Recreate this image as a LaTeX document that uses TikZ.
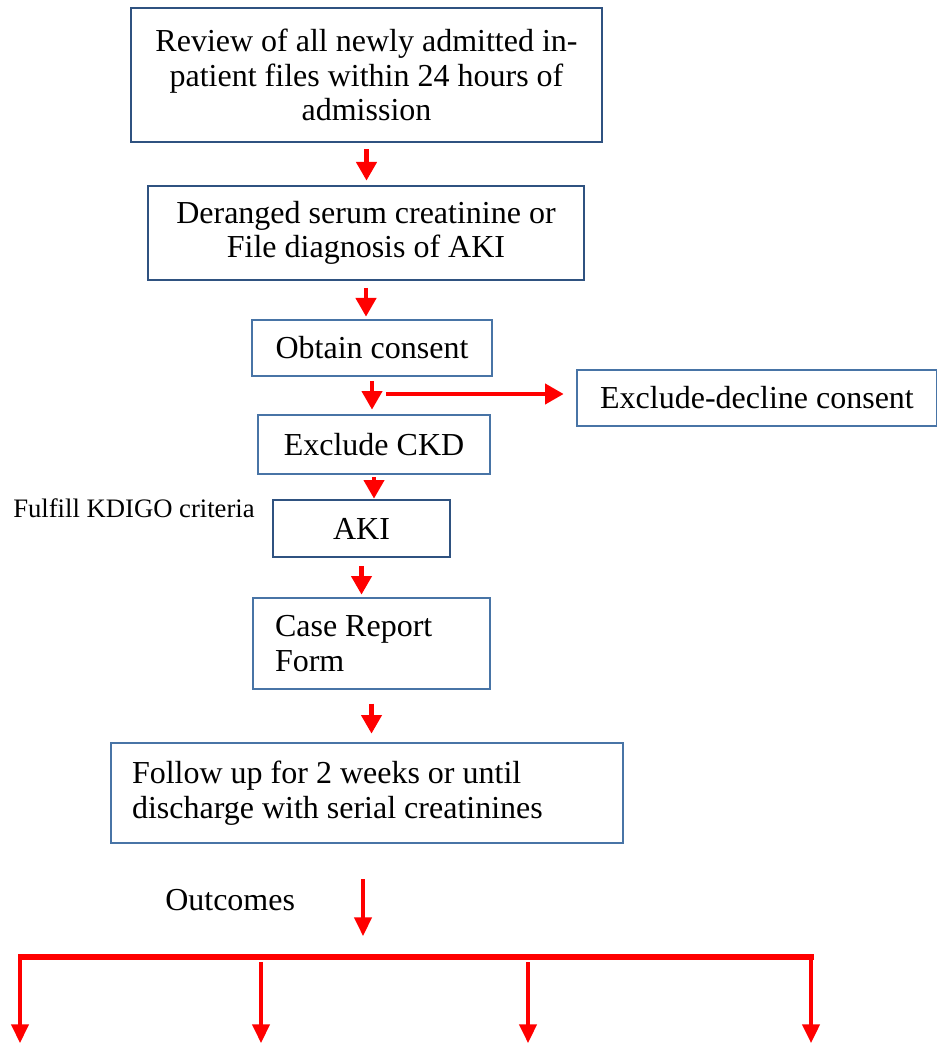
\documentclass[tikz,border=0pt]{standalone}
\usepackage{fontspec}
\setmainfont{Liberation Serif}
\usetikzlibrary{arrows.meta}

\definecolor{darkframe}{RGB}{47,82,128}
\definecolor{lightframe}{RGB}{72,116,166}
\def\boxfont{\fontsize{24}{26}\selectfont}
\def\notefont{\fontsize{20}{22}\selectfont}

\tikzset{
  flowbox/.style={draw=#1, line width=2pt, inner sep=0pt, font=\boxfont, align=center},
  flowbox/.default=lightframe,
  flow/.style={draw=red, line width=3.2pt, -{Triangle[width=15pt,length=14pt]}},
  outflow/.style={draw=red, line width=2.6pt, -{Triangle[width=13pt,length=14pt]}},
  bar/.style={draw=red, line width=4.5pt}
}

\begin{document}
\begin{tikzpicture}[x=0.75pt, y=-0.75pt]
  \useasboundingbox (0,0) rectangle (937,1044);

  % Main column of boxes
  \node[flowbox=darkframe, minimum width=353.25pt, minimum height=100.5pt] (review) at (366.5,75)
    {Review of all newly admitted in-\\patient files within 24 hours of\\admission};
  \node[flowbox=darkframe, minimum width=327pt, minimum height=70.5pt] (deranged) at (366,233)
    {Deranged serum creatinine or\\File diagnosis of AKI};
  \node[flowbox, minimum width=180pt, minimum height=42pt] (consent) at (372,348) {Obtain consent};
  \node[flowbox, minimum width=174pt, minimum height=44.25pt] (ckd) at (374,444.5) {Exclude CKD};
  \node[flowbox=darkframe, minimum width=132.75pt, minimum height=42.75pt] (aki) at (361.5,528.5) {AKI};
  \node[flowbox, align=flush left, inner xsep=16.5pt, text width=144.75pt, minimum width=177.75pt,
    minimum height=68.25pt] (crf) at (371.5,643.5) {Case Report\\Form};
  \node[flowbox, align=flush left, inner xsep=15.75pt, text width=352.5pt, minimum width=384pt,
    minimum height=75pt] (follow) at (367,793)
    {Follow up for 2 weeks or until\\discharge with serial creatinines};

  % Side box
  \node[flowbox, minimum width=270pt, minimum height=42pt] (decline) at (757,398) {Exclude-decline consent};

  % Free labels
  \node[anchor=west, inner sep=0pt, font=\notefont] (kdigo) at (13,508) {Fulfill KDIGO criteria};
  \node[anchor=west, inner sep=0pt, font=\boxfont] (outcomes) at (165,900) {Outcomes};

  % Arrows down the column
  \foreach \from/\to/\s/\e in {
      review/deranged/4.5pt/3pt,
      deranged/consent/5pt/1.5pt,
      consent/ckd/3pt/3pt,
      ckd/aki/1.5pt/0pt,
      aki/crf/6pt/1.5pt,
      crf/follow/10pt/6pt
    } {
      \draw[flow, shorten <=\s, shorten >=\e] (\from.south) -- (\from.south |- \to.north);
    };

  % Branch to the excluded patients
  \coordinate (branch) at (386,394);
  \draw[flow, shorten >=9pt] (branch) -- (branch -| decline.west);

  % Outcomes
  \coordinate (hub) at (363,936);
  \draw[outflow, shorten <=26pt] (follow.south -| hub) -- (hub);
  \coordinate (barL) at (18,957);
  \coordinate (barR) at (814,957);
  \draw[bar] (barL) -- (barR);
  \foreach \x/\top [count=\i] in {20/957, 261/962, 528/962, 811/957} {
      \coordinate (top\i) at (\x,\top);
      \coordinate (out\i) at (\x,1043);
      \draw[outflow] (top\i) -- (out\i);
    };
\end{tikzpicture}
\end{document}
